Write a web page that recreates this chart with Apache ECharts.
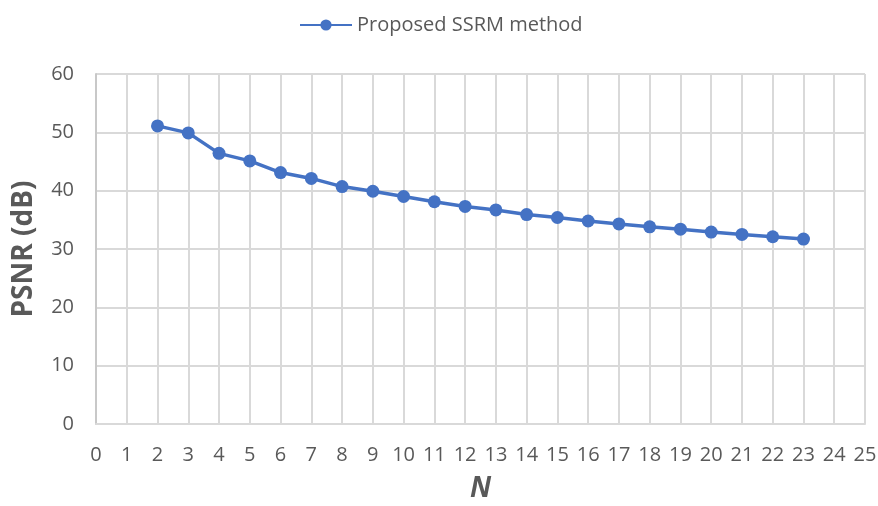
<!DOCTYPE html>
<html>
<head>
<meta charset="utf-8">
<script src="https://cdn.jsdelivr.net/npm/echarts@6/dist/echarts.min.js"></script>
<style>
html,body{margin:0;padding:0;background:#fff;}
#chart{width:878px;height:506px;}
</style>
</head>
<body>
<div id="chart"></div>
<script>
// N values and PSNR
var nValues = [2,3,4,5,6,7,8,9,10,11,12,13,14,15,16,17,18,19,20,21,22,23]
var psnr = [51.1,49.9,46.4,45.1,43.1,42.1,40.7,39.9,39.0,38.1,37.3,36.7,35.9,35.4,34.8,34.3,33.8,33.4,32.9,32.5,32.1,31.7]
var seriesName = "Proposed SSRM method"

var grey = "#595959"
var gridColor = "#d9d9d9"

var option = {
	animation: false,
	textStyle: { fontFamily: "Open Sans" },
	legend: {
		top: 10,
		left: 294,
		itemWidth: 52,
		itemHeight: 14,
		itemGap: 5,
		textStyle: { color: grey, fontSize: 20, fontFamily: "Open Sans" },
		data: [seriesName]
	},
	grid: { left: 96, right: 13, top: 74, bottom: 82, outerBoundsMode: "none" },
	xAxis: {
		type: "value",
		min: 0, max: 25, interval: 1,
		name: "N",
		nameLocation: "middle",
		nameGap: 51,
		nameTextStyle: { color: grey, fontSize: 28, fontWeight: "bold", fontStyle: "italic" },
		axisLine: { lineStyle: { color: gridColor, width: 2 } },
		axisTick: { show: false },
		axisLabel: { color: grey, fontSize: 20, margin: 21 },
		splitLine: { lineStyle: { color: gridColor, width: 2 } }
	},
	yAxis: {
		type: "value",
		min: 0, max: 60, interval: 10,
		name: "PSNR (dB)",
		nameLocation: "middle",
		nameGap: 58,
		nameTextStyle: { color: grey, fontSize: 28, fontWeight: "bold" },
		axisLine: { show: true, lineStyle: { color: "#c8c8c8", width: 2 } },
		axisTick: { show: false },
		axisLabel: { color: grey, fontSize: 20, margin: 22 },
		splitLine: { lineStyle: { color: gridColor, width: 2 } }
	},
	series: [{
		name: seriesName,
		type: "line",
		data: nValues.map(function(n, i){ return [n, psnr[i]] }),
		symbol: "circle",
		symbolSize: 13,
		lineStyle: { color: "#4472c4", width: 3.5 },
		itemStyle: { color: "#4472c4" }
	}]
}

var myChart = echarts.init(document.getElementById("chart"))
myChart.setOption(option)
</script>
</body>
</html>
